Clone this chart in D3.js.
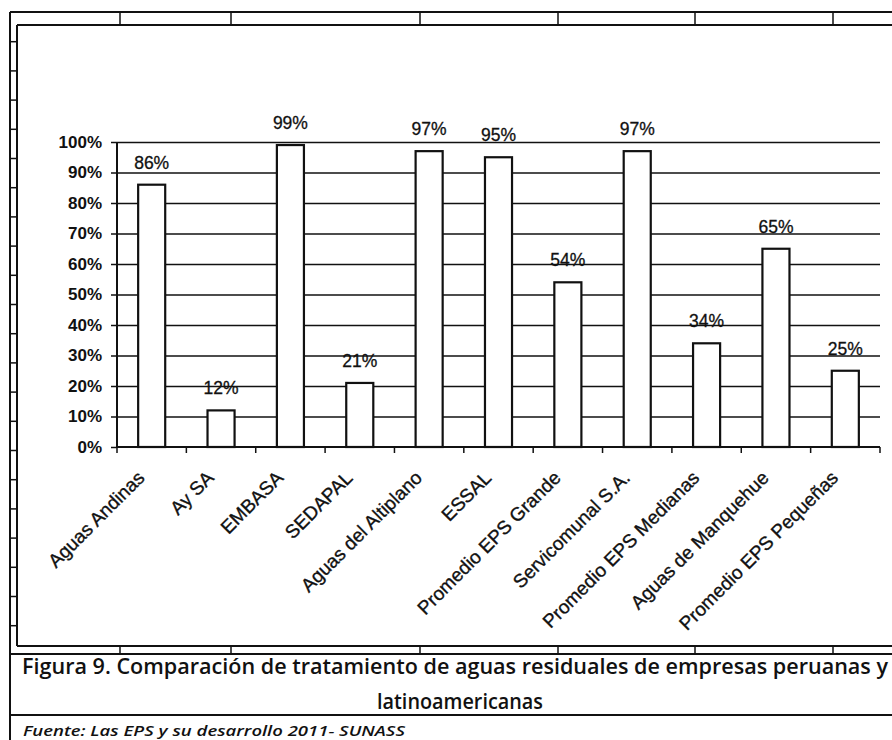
<!DOCTYPE html>
<html>
<head>
<meta charset="utf-8">
<script src="https://cdn.jsdelivr.net/npm/d3@7"></script>
<style>
  html, body { margin: 0; padding: 0; background: #fff; }
  svg { display: block; }
</style>
</head>
<body>
<svg id="chart" width="892" height="740"></svg>
<script>
// ---- data ----
const categories = [
  "Aguas Andinas", "Ay SA", "EMBASA", "SEDAPAL", "Aguas del Altiplano", "ESSAL",
  "Promedio EPS Grande", "Servicomunal S.A.", "Promedio EPS Medianas",
  "Aguas de Manquehue", "Promedio EPS Pequeñas"
];
const values = [86, 12, 99, 21, 97, 95, 54, 97, 34, 65, 25];
const yTicks = [0, 10, 20, 30, 40, 50, 60, 70, 80, 90, 100];
const captionLines = [
  "Figura 9. Comparación de tratamiento de aguas residuales de empresas peruanas y",
  "latinoamericanas"
];
const sourceText = "Fuente: Las EPS y su desarrollo 2011- SUNASS";

// ---- drawing ----
const svg = d3.select("#chart");
const ink = "#111";

// spreadsheet-like frame (decoration)
const frame = svg.append("g").attr("stroke", ink).attr("fill", "none");
frame.append("line").attr("x1", 10).attr("x2", 892).attr("y1", 12).attr("y2", 12).attr("stroke-width", 2);
frame.append("line").attr("x1", 10).attr("x2", 10).attr("y1", 12).attr("y2", 740).attr("stroke-width", 2);
frame.append("line").attr("x1", 17).attr("x2", 892).attr("y1", 25).attr("y2", 25).attr("stroke-width", 2);
frame.append("line").attr("x1", 17).attr("x2", 17).attr("y1", 25).attr("y2", 646).attr("stroke-width", 2);
frame.append("line").attr("x1", 17).attr("x2", 892).attr("y1", 646).attr("y2", 646).attr("stroke-width", 2);
frame.append("line").attr("x1", 10).attr("x2", 892).attr("y1", 654).attr("y2", 654).attr("stroke-width", 2);
frame.append("line").attr("x1", 10).attr("x2", 892).attr("y1", 715).attr("y2", 715).attr("stroke-width", 2);
const colXs = [120, 231, 420, 558, 695, 833];
colXs.forEach(cx => {
  frame.append("line").attr("x1", cx).attr("x2", cx).attr("y1", 12).attr("y2", 25).attr("stroke-width", 1.5);
  frame.append("line").attr("x1", cx).attr("x2", cx).attr("y1", 646).attr("y2", 654).attr("stroke-width", 1.5);
});
d3.range(21).forEach(i => {
  const ry = 41.7 + i * 29.2;
  frame.append("line").attr("x1", 10).attr("x2", 17).attr("y1", ry).attr("y2", ry).attr("stroke-width", 1.5);
});

// scales
const x = d3.scaleBand().domain(categories).range([117, 880]).paddingInner(0.61).paddingOuter(0.305);
const y = d3.scaleLinear().domain([0, 100]).range([447, 142]);
const x0 = x.range()[0], x1 = x.range()[1];

// gridlines
svg.append("g")
  .attr("transform", `translate(${x0},0)`)
  .call(d3.axisLeft(y).tickValues(yTicks.filter(d => d > 0)).tickSize(-(x1 - x0)).tickFormat(""))
  .call(g => g.select(".domain").remove())
  .call(g => g.selectAll("line").attr("stroke", ink).attr("stroke-width", 1.5));

// y axis
svg.append("g")
  .attr("transform", `translate(${x0},0)`)
  .call(d3.axisLeft(y).tickValues(yTicks).tickSize(6).tickPadding(9).tickFormat(d => d + "%"))
  .call(g => g.select(".domain").attr("stroke", ink).attr("stroke-width", 2).attr("d", `M0,${y(100)}V${y(0)}`))
  .call(g => g.selectAll(".tick line").attr("stroke", ink).attr("stroke-width", 1.5))
  .call(g => g.selectAll("text")
    .attr("fill", ink)
    .style("font-family", "'Liberation Sans', Arial, sans-serif")
    .style("font-size", "17px")
    .style("font-weight", "bold"));

// bars
svg.append("g").selectAll("rect")
  .data(categories)
  .join("rect")
  .attr("x", d => x(d))
  .attr("width", x.bandwidth())
  .attr("y", (d, i) => y(values[i]))
  .attr("height", (d, i) => y(0) - y(values[i]))
  .attr("fill", "#fff")
  .attr("stroke", ink)
  .attr("stroke-width", 2.2);

// x axis with ticks at category boundaries
const step = x.step();
const boundaries = d3.range(categories.length + 1).map(i => x0 + i * step);
const xa = svg.append("g");
xa.append("line").attr("x1", x0).attr("x2", x1).attr("y1", y(0)).attr("y2", y(0))
  .attr("stroke", ink).attr("stroke-width", 2);
xa.selectAll("line.tk").data(boundaries).join("line").attr("class", "tk")
  .attr("x1", d => d).attr("x2", d => d).attr("y1", y(0)).attr("y2", y(0) + 6)
  .attr("stroke", ink).attr("stroke-width", 1.5);

// x labels
svg.append("g").selectAll("text")
  .data(categories)
  .join("text")
  .attr("transform", d => `translate(${x(d) + x.bandwidth() / 2 - 6},479) rotate(-45)`)
  .attr("text-anchor", "end")
  .attr("fill", ink)
  .attr("stroke", ink)
  .attr("stroke-width", 0.35)
  .style("font-family", "'Liberation Sans', Arial, sans-serif")
  .style("font-size", "19px")
  .text(d => d);

// data labels
svg.append("g").selectAll("text")
  .data(categories)
  .join("text")
  .attr("x", d => x(d) + x.bandwidth() / 2)
  .attr("y", (d, i) => y(values[i]) - 16)
  .attr("text-anchor", "middle")
  .attr("fill", ink)
  .attr("stroke", ink)
  .attr("stroke-width", 0.3)
  .style("font-family", "'Liberation Sans', Arial, sans-serif")
  .style("font-size", "17.5px")
  .text((d, i) => values[i] + "%");

// caption
svg.append("text")
  .attr("x", 22).attr("y", 674)
  .attr("textLength", 866).attr("lengthAdjust", "spacingAndGlyphs")
  .attr("fill", ink)
  .style("font-family", "'Open Sans', sans-serif")
  .style("font-size", "21px")
  .style("font-weight", 600)
  .text(captionLines[0]);
svg.append("text")
  .attr("x", 377).attr("y", 709)
  .attr("textLength", 166).attr("lengthAdjust", "spacingAndGlyphs")
  .attr("fill", ink)
  .style("font-family", "'Open Sans', sans-serif")
  .style("font-size", "21px")
  .style("font-weight", 600)
  .text(captionLines[1]);
svg.append("text")
  .attr("x", 23).attr("y", 736)
  .attr("textLength", 382).attr("lengthAdjust", "spacingAndGlyphs")
  .attr("fill", ink)
  .style("font-family", "'Open Sans', sans-serif")
  .style("font-size", "15px")
  .style("font-style", "italic")
  .style("font-weight", 600)
  .text(sourceText);
</script>
</body>
</html>
